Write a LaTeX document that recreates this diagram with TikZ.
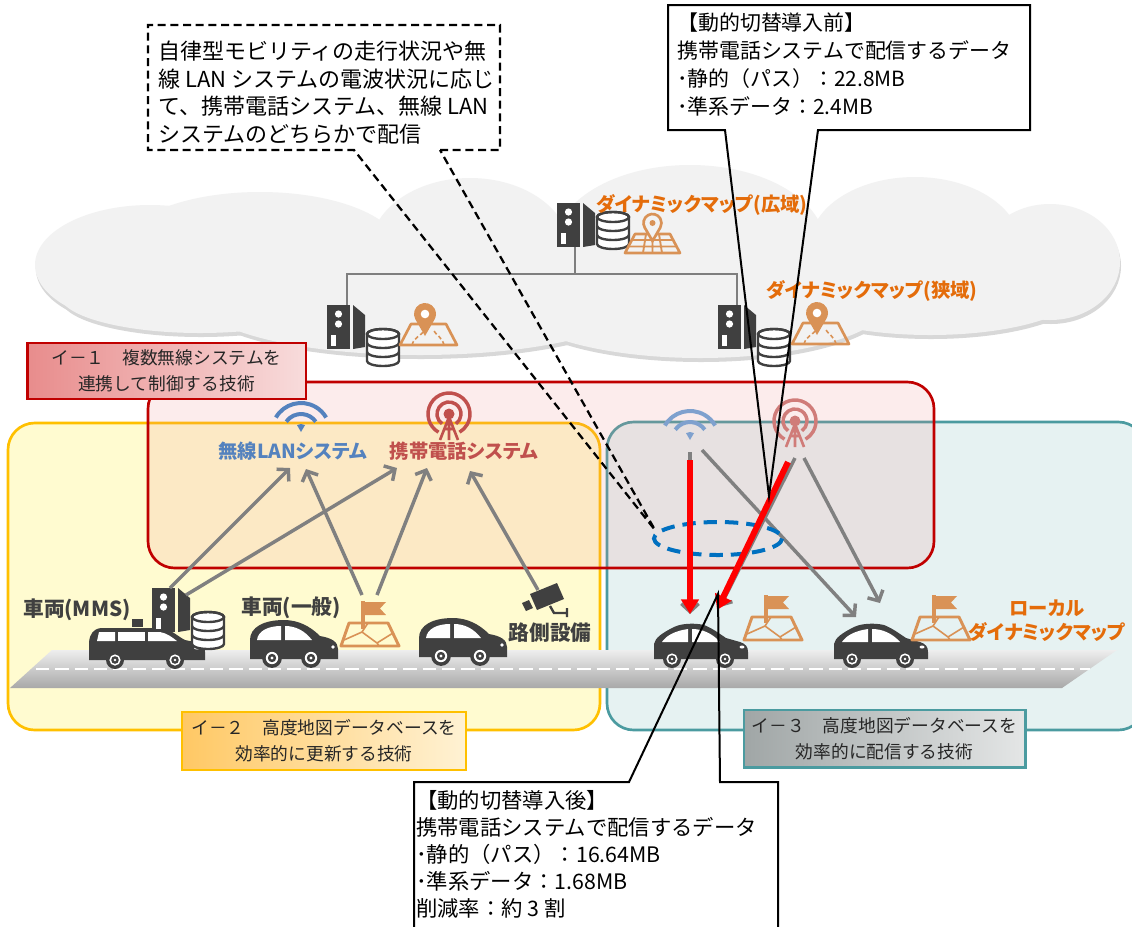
\documentclass[tikz,border=0pt]{standalone}
\usepackage{fontspec}
\usetikzlibrary{arrows.meta,calc}
\newfontfamily\jpfont{Noto Sans CJK JP}
\newfontfamily\jpprop{Noto Sans CJK JP}[RawFeature=+palt]
\newcommand\setfs[2]{\fontsize{#1}{#2}\selectfont}

\definecolor{icongray}{RGB}{64,64,64}
\definecolor{mapor}{RGB}{217,146,86}
\definecolor{txtor}{RGB}{228,108,10}
\definecolor{wblue}{RGB}{84,130,190}
\definecolor{tred}{RGB}{192,80,77}
\definecolor{arrgray}{RGB}{128,128,128}
\definecolor{boxred}{RGB}{192,0,0}
\definecolor{redtint}{RGB}{240,140,140}
\definecolor{boxyel}{RGB}{255,192,0}
\definecolor{fillyel}{RGB}{255,251,208}
\definecolor{boxteal}{RGB}{75,155,160}
\definecolor{fillteal}{RGB}{230,242,242}
\definecolor{cloudfill}{RGB}{242,242,242}
\definecolor{cloudshade}{RGB}{216,216,216}
\definecolor{ellblue}{RGB}{0,112,192}
\definecolor{arrred}{RGB}{255,0,0}
\definecolor{treeline}{RGB}{127,127,127}
\definecolor{roadtop}{RGB}{238,238,238}
\definecolor{roadbot}{RGB}{168,168,168}
\definecolor{redlabA}{RGB}{232,140,140}
\definecolor{redlabB}{RGB}{248,220,220}
\definecolor{yellabA}{RGB}{255,200,100}
\definecolor{yellabB}{RGB}{255,242,212}
\definecolor{teallabA}{RGB}{160,166,166}
\definecolor{teallabB}{RGB}{228,230,230}

\tikzset{
  dbshift/.store in=\dbshift, dbshift=0,
  region/.style={line width=2pt, rounded corners=20pt},
  tag/.style={line width=2pt, inner sep=0pt, align=center,
    font=\jpfont\setfs{13.3}{19.5}, text=black!85},
  garrow/.style={draw=arrgray, line width=2.6pt,
    -{Straight Barb[length=6pt,width=13pt]}},
  rarrow/.style={draw=arrred, line width=4.5pt,
    -{Triangle[length=11pt,width=13pt]}},
  iconlbl/.style={font=\jpprop\bfseries\setfs{14.5}{18}, inner sep=0pt},
  carlbl/.style={font=\jpprop\bfseries\setfs{15.5}{18}, inner sep=0pt, text=icongray},
  callouttext/.style={anchor=north west, inner sep=0pt, align=left},
  % server tower with its database stack
  server/.pic={
    \fill[icongray] (0,0) rectangle (23,44);
    \fill[white] (11.5,9) circle[radius=3.6] (11.5,19) circle[radius=3.6];
    \fill[white] (4,30) rectangle (8.5,41);
    \fill[icongray] (26,0) -- (38,10) -- (38,42) -- (26,44) -- cycle;
    \begin{scope}[yshift=\dbshift*0.75pt]
    \filldraw[fill=white, draw=icongray, line width=1.8pt]
      (40,19) -- (40,46) arc[start angle=180,end angle=0,x radius=16,y radius=5]
      -- (72,19) arc[start angle=0,end angle=-180,x radius=16,y radius=5] -- cycle;
    \draw[icongray, line width=1.8pt] (56,19) ellipse[x radius=16,y radius=5]
      (40,28) arc[start angle=180,end angle=0,x radius=16,y radius=5]
      (40,37) arc[start angle=180,end angle=0,x radius=16,y radius=5];
    \end{scope}
  },
  % map with a location pin and roads
  pinmap/.pic={
    \draw[mapor, line width=2pt, line join=round] (0,0) -- (57,0) -- (46,-21) -- (11,-21) -- cycle;
    \draw[mapor, line width=1.2pt, dash pattern=on 3pt off 2pt]
      (12,0) .. controls (14,-8) and (22,-10) .. (24,-14)
      (44,0) .. controls (42,-8) and (36,-10) .. (34,-14);
    \fill[mapor] (25,-9) -- (15.47,-25.5) arc[start angle=150,end angle=390,radius=11] -- cycle;
    \fill[white] (25,-31) circle[radius=4.3];
  },
  % wide-area map with grid and pin
  gridmap/.pic={
    \draw[mapor, line width=2pt, line join=round] (0,0) -- (55,0) -- (45,-19) -- (10,-19) -- cycle;
    \draw[mapor, line width=1.4pt] (4,-6.5) -- (51,-6.5) (7,-13) -- (48,-13)
      (18,0) -- (21,-19) (27.5,0) -- (27.5,-19) (37,0) -- (34,-19);
    \filldraw[fill=cloudfill, draw=mapor, line width=2pt]
      (27.5,-12) -- (19.7,-25.5) arc[start angle=150,end angle=390,radius=9] -- cycle;
    \fill[mapor] (27.5,-30) circle[radius=3];
  },
  % local map with a flag
  flagmap/.pic={
    \fill[mapor] (20,0) rectangle (23.5,28);
    \fill[mapor] (23.5,1) -- (45,1) -- (39,7.5) -- (45,14) -- (23.5,14) -- cycle;
    \draw[mapor, line width=2.2pt, line join=round] (8,22) -- (47,22) -- (58,45) -- (0,45) -- cycle;
    \draw[mapor, line width=1.2pt] (3,39) -- (21,31) -- (36,42) -- (52,32)
      (21,31) -- (27,22) (36,42) -- (38,45);
  },
  wifi/.pic={
    \draw[line width=3pt] (210:29) arc[start angle=210,end angle=330,radius=29];
    \draw[line width=3pt] (215:18) arc[start angle=215,end angle=325,radius=18];
    \fill (0,0) -- (240:8) arc[start angle=240,end angle=300,radius=8] -- cycle;
  },
  tower/.pic={
    \draw[line width=2.6pt] (120:21) arc[start angle=120,end angle=420,radius=21];
    \draw[line width=2.6pt] (125:12) arc[start angle=125,end angle=415,radius=12];
    \fill (0,0) circle[radius=5.5];
    \draw[line width=2pt] (-9,26) -- (0,3) -- (9,26) (0,3) -- (0,26) (-5,15) -- (5,15);
  },
  wheel/.pic={
    \fill[icongray] (0,0) circle[radius=9];
    \fill[white] (0,0) circle[radius=5.6];
    \fill[icongray] (0,0) circle[radius=3.8];
    \fill[white] (0,0) circle[radius=1.4];
  },
  sedan/.pic={
    \fill[icongray] (0,2) -- (0,-13) .. controls (1,-19) and (8,-24) .. (20,-30)
      .. controls (28,-34) and (42,-34) .. (50,-32) .. controls (58,-29) and (66,-23) .. (72,-19)
      -- (86,-15) .. controls (92,-13) and (94,-10) .. (94,-5) -- (94,2) -- cycle;
    \fill[white] (8,-15) .. controls (12,-21) and (20,-26) .. (34,-28) -- (34,-15) -- cycle;
    \fill[white] (38,-28) .. controls (48,-28) and (58,-24) .. (66,-15) -- (38,-15) -- cycle;
    \fill[white] (88,-10) ellipse[x radius=2.5,y radius=1.5];
    \pic at (18,2) {wheel};
    \pic at (71,2) {wheel};
  },
  compact/.pic={
    \fill[icongray] (0,2) -- (0,-17) .. controls (0,-30) and (14,-37) .. (34,-37)
      .. controls (48,-37) and (60,-31) .. (70,-21) .. controls (82,-19) and (88,-15) .. (88,-8)
      -- (88,2) -- cycle;
    \fill[white] (7,-17) .. controls (8,-26) and (18,-31) .. (31,-31) -- (31,-17) -- cycle;
    \fill[white] (35,-31) .. controls (46,-31) and (55,-26) .. (62,-17) -- (35,-17) -- cycle;
    \fill[white] (83,-10) circle[radius=1.8];
    \pic[scale=1.1] at (22,1) {wheel};
    \pic[scale=1.1] at (61,1) {wheel};
  },
  wagon/.pic={
    \fill[icongray] (0,2) -- (0,-16) .. controls (1,-24) and (4,-29) .. (12,-30) -- (72,-30)
      .. controls (82,-29) and (88,-22) .. (96,-18) -- (110,-15)
      .. controls (115,-14) and (116,-11) .. (116,-6) -- (116,2) -- cycle;
    \fill[icongray] (43,-39) rectangle (54,-31);
    \fill[white] (8,-17) -- (10,-26) -- (26,-26) -- (26,-17) -- cycle;
    \fill[white] (29,-26) -- (56,-26) -- (56,-17) -- (29,-17) -- cycle;
    \fill[white] (59,-26) -- (71,-26) .. controls (78,-25) and (84,-20) .. (88,-17) -- (59,-17) -- cycle;
    \fill[white] (108,-10) ellipse[x radius=3,y radius=1.5];
    \pic at (26,2) {wheel};
    \pic at (86,2) {wheel};
  },
}

\begin{document}
\begin{tikzpicture}[x=0.75pt,y=-0.75pt]
\path[use as bounding box, clip] (0,0) rectangle (1132,926);
\fill[white] (0,0) rectangle (1132,926);

% ---- cloud (shadow, then body)
\foreach \cx/\cy/\rx/\ry in {150/265/115/60, 260/250/140/58, 470/250/100/72,
    690/245/135/80, 915/245/105/68, 1050/262/70/58, 420/300/220/55,
    700/300/190/58, 930/290/150/45, 200/295/140/38}
  \fill[cloudshade] (\cx+1,\cy+4) ellipse[x radius=\rx,y radius=\ry];
\foreach \cx/\cy/\rx/\ry in {150/265/115/60, 260/250/140/58, 470/250/100/72,
    690/245/135/80, 915/245/105/68, 1050/262/70/58, 420/300/220/55,
    700/300/190/58, 930/290/150/45, 200/295/140/38}
  \fill[cloudfill] (\cx,\cy) ellipse[x radius=\rx,y radius=\ry];

% ---- server tree in the cloud
\draw[treeline, line width=2.2pt] (575,247) -- (575,274);
\draw[treeline, line width=2.2pt] (347,305) -- (347,274) -- (737,274) -- (737,305);
\pic[dbshift=5] (srvTop) at (557,203) {server};
\pic[dbshift=-10] (srvLeft) at (327,305) {server};
\pic[dbshift=-10] (srvRight) at (718,305) {server};
\pic (mapTop) at (625,253) {gridmap};
\pic (mapLeft) at (400,345) {pinmap};
\pic (mapRight) at (792,344) {pinmap};
\node[iconlbl, text=txtor] (lblWide) at (702,205) {ダイナミックマップ(広域)};
\node[iconlbl, text=txtor] (lblNarrow) at (872,291) {ダイナミックマップ(狭域)};

% ---- technology regions
\filldraw[fill=fillyel, draw=boxyel, region] (8,423) rectangle (600,730);
\filldraw[fill=fillteal, draw=boxteal, region] (607,422) rectangle (1145,730);

% ---- road
\shade[top color=roadtop, bottom color=roadbot] (52,650) -- (1117,650) -- (1062,688) -- (10,688) -- cycle;
\draw[white, line width=2.2pt, dash pattern=on 10pt off 4.5pt] (36,669) -- (1090,669);

% ---- wireless control region
\fill[redtint, fill opacity=0.16, rounded corners=20pt] (148,382) rectangle (934,568);
\draw[boxred, region] (148,382) rectangle (934,568);

\node[tag, draw=boxred, left color=redlabA, right color=redlabB,
  minimum width=209pt, minimum height=42pt] (tag1) at (166.5,371)
  {イ－１　複数無線システムを\\連携して制御する技術};
\node[tag, draw=boxyel, left color=yellabA, right color=yellabB,
  minimum width=213pt, minimum height=43.5pt] (tag2) at (324,741)
  {イ－２　高度地図データベースを\\効率的に更新する技術};
\node[tag, draw=boxteal, left color=teallabA, right color=teallabB,
  minimum width=211pt, minimum height=43pt] (tag3) at (884.5,738.5)
  {イ－３　高度地図データベースを\\効率的に配信する技術};

% ---- radio systems
\pic[color=wblue] (wifiL) at (301,432) {wifi};
\pic[color=tred] (towerL) at (449,414) {tower};
\pic[color=wblue!75] (wifiR) at (690,440) {wifi};
\pic[color=tred!75] (towerR) at (795,421) {tower};
\node[iconlbl, text=wblue] (lblWlan) at (293,451) {無線LANシステム};
\node[iconlbl, text=tred] (lblCell) at (464,451) {携帯電話システム};

% ---- vehicles, roadside unit and local maps
\pic (carMms) at (89,658) {wagon};
\pic[dbshift=-10] (srvMms) at (152,588) {server};
\pic (carGen) at (250,657) {compact};
\pic (carRoad) at (419,655) {compact};
\pic (carA) at (654,657) {sedan};
\pic (carB) at (834,657) {sedan};
\pic (fmapGen) at (341,601) {flagmap};
\pic (fmapA) at (744,595) {flagmap};
\pic (fmapB) at (912,595) {flagmap};

% roadside camera
\fill[icongray] (530,594) -- (557,583) -- (564,599) -- (537,610) -- cycle;
\fill[icongray] (522,603) -- (529,600) -- (533,608) -- (526,611) -- cycle;
\draw[icongray, line width=1.8pt] (550,606) -- (554,613) -- (567,613) (567,608) -- (567,617);

\node[carlbl] (lblMms) at (77,610) {車両(MMS)};
\node[carlbl] (lblGen) at (291,608) {車両(一般)};
\node[carlbl] (lblRoad) at (550,633) {路側設備};
\node[iconlbl, text=txtor, align=center] (lblLocal) at (1047,621) {ローカル\\ダイナミックマップ};

% ---- uplink arrows
\coordinate (wlanIn1) at (290,468);
\coordinate (wlanIn2) at (306,469);
\coordinate (cellIn1) at (397,468);
\coordinate (cellIn2) at (427,468);
\coordinate (cellIn3) at (470,471);
\coordinate (mmsOut1) at (170,588);
\coordinate (mmsOut2) at (186,595);
\coordinate (flagOut1) at (362,595);
\coordinate (flagOut2) at (377,595);
\coordinate (camOut) at (538,590);
\draw[garrow] (mmsOut1) -- (wlanIn1);
\draw[garrow] (mmsOut2) -- (cellIn1);
\draw[garrow] (flagOut1) -- (wlanIn2);
\draw[garrow] (flagOut2) -- (cellIn2);
\draw[garrow] (camOut) -- (cellIn3);

% ---- downlink arrows
\coordinate (wifiOut1) at (690,452);
\coordinate (wifiOut2) at (702,450);
\coordinate (towerOut1) at (795,458);
\coordinate (towerOut2) at (804,458);
\coordinate (carAIn1) at (690,614);
\coordinate (carAIn2) at (720,607);
\coordinate (carBIn1) at (856,617);
\coordinate (carBIn2) at (880,603);
\coordinate (redStart1) at (690,460);
\coordinate (redStart2) at (788,462);
\coordinate (redEnd2) at (717,610);
\draw[garrow] (wifiOut1) -- (carAIn1);
\draw[garrow] (wifiOut2) -- (carBIn1);
\draw[garrow] (towerOut1) -- (carAIn2);
\draw[garrow] (towerOut2) -- (carBIn2);

\draw[ellblue, line width=3pt, dash pattern=on 10pt off 6pt] (718,538.5) ellipse[x radius=64,y radius=16.5];

\draw[rarrow] (redStart1) -- (carAIn1);
\draw[rarrow] (redStart2) -- (redEnd2);

% ---- callouts
\coordinate (tipSwitch) at (655,530);
\coordinate (tipBefore) at (769,496);
\coordinate (tipAfter) at (718,594);

\fill[white] (148,25) rectangle (500,150);
\draw[black, line width=1.7pt, dash pattern=on 6pt off 3.5pt]
  (440,150) -- (500,150) -- (500,25) -- (148,25) -- (148,150) -- (354,150) -- (tipSwitch) -- cycle;
\node[callouttext, font=\jpfont\setfs{16.5}{20.6}] (noteSwitch) at (158,41)
  {自律型モビリティの走行状況や無\\線 LAN システムの電波状況に応じ\\て、携帯電話システム、無線 LAN\\システムのどちらかで配信};

\fill[white] (668,5) rectangle (1030,130);
\draw[black, line width=1.5pt]
  (818,130) -- (1030,130) -- (1030,5) -- (668,5) -- (668,130) -- (725,130) -- (tipBefore) -- cycle;
\node[callouttext, font=\jpfont\setfs{15.7}{21}] (noteBefore) at (677,13)
  {【動的切替導入前】\\携帯電話システムで配信するデータ\\･静的（パス）：22.8MB\\･準系データ：2.4MB};

\fill[white] (414,782) rectangle (778,940);
\draw[black, line width=1.5pt]
  (720,782) -- (778,782) -- (778,940) -- (414,940) -- (414,782) -- (629,782) -- (tipAfter) -- cycle;
\node[callouttext, font=\jpfont\setfs{16}{20.3}] (noteAfter) at (416,790)
  {【動的切替導入後】\\携帯電話システムで配信するデータ\\･静的（パス）：16.64MB\\･準系データ：1.68MB\\削減率：約 3 割};
\end{tikzpicture}
\end{document}
